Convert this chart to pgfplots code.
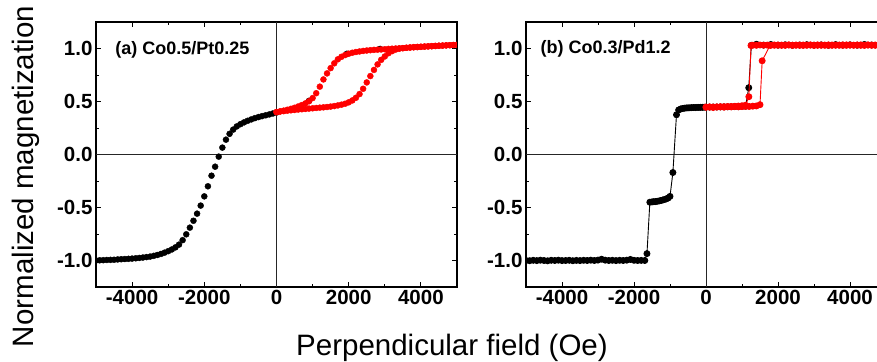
\documentclass[border=0pt]{standalone}
\usepackage{fontspec}
\setmainfont{Liberation Sans}
\usepackage{pgfplots}
\pgfplotsset{compat=1.18}
\usepackage{pgfplotstable}

% ---------- Panel (a) Co0.5/Pt0.25 ----------
\pgfplotstableread{
x y
-5000 -1.000
-4900 -0.998
-4800 -0.997
-4700 -0.995
-4600 -0.994
-4500 -0.993
-4400 -0.990
-4300 -0.988
-4200 -0.986
-4100 -0.984
-4000 -0.982
-3900 -0.979
-3800 -0.976
-3700 -0.972
-3600 -0.968
-3500 -0.963
-3400 -0.956
-3300 -0.948
-3200 -0.938
-3100 -0.926
-3000 -0.912
-2900 -0.896
-2800 -0.876
-2700 -0.850
-2600 -0.808
-2500 -0.753
-2400 -0.690
-2300 -0.625
-2200 -0.558
-2100 -0.482
-2000 -0.395
-1900 -0.300
-1800 -0.200
-1700 -0.115
-1600 -0.020
-1500 0.065
-1400 0.140
-1300 0.195
-1200 0.235
-1100 0.265
-1000 0.286
-900 0.303
-800 0.318
-700 0.331
-600 0.343
-500 0.353
-400 0.362
-300 0.370
-200 0.378
-100 0.387
0 0.396
900 0.506
1950 0.950
2870 0.996
}\blackA

\pgfplotstableread{
x y
0 0.400
100 0.405
200 0.409
300 0.413
400 0.417
500 0.420
600 0.424
700 0.427
800 0.430
900 0.433
1000 0.436
1100 0.439
1200 0.442
1300 0.445
1400 0.448
1500 0.452
1600 0.457
1700 0.463
1800 0.470
1900 0.479
2000 0.492
2100 0.510
2200 0.535
2300 0.570
2400 0.620
2500 0.680
2600 0.740
2700 0.798
2800 0.850
2900 0.893
3000 0.925
3100 0.955
3200 0.975
3300 0.990
3400 0.998
3500 1.003
3600 1.007
3700 1.010
3800 1.013
3900 1.015
4000 1.017
4100 1.019
4200 1.021
4300 1.023
4400 1.025
4500 1.027
4600 1.028
4700 1.030
4800 1.031
4900 1.033
5000 1.035
4900 1.033
4800 1.031
4700 1.029
4600 1.027
4500 1.025
4400 1.023
4300 1.021
4200 1.019
4100 1.017
4000 1.015
3900 1.013
3800 1.011
3700 1.009
3600 1.007
3500 1.004
3400 1.002
3300 1.000
3200 0.998
3100 0.996
3000 0.993
2900 0.991
2800 0.989
2700 0.987
2600 0.984
2500 0.981
2400 0.977
2300 0.972
2200 0.967
2100 0.960
2000 0.951
1900 0.938
1800 0.922
1700 0.898
1600 0.860
1500 0.815
1400 0.765
1300 0.708
1200 0.640
1100 0.578
1000 0.532
900 0.502
800 0.482
700 0.466
600 0.453
500 0.441
400 0.431
300 0.422
200 0.414
100 0.407
0 0.400
}\redA

% ---------- Panel (b) Co0.3/Pd1.2 ----------
\pgfplotstableread{
x y
-5000 -1.000
-4900 -1.002
-4800 -0.998
-4700 -1.001
-4600 -0.997
-4500 -1.000
-4400 -1.003
-4300 -0.998
-4200 -1.000
-4100 -0.997
-4000 -1.001
-3900 -1.000
-3800 -0.998
-3700 -1.002
-3600 -0.999
-3500 -1.001
-3400 -0.998
-3300 -1.000
-3200 -0.997
-3100 -1.000
-3000 -0.996
-2900 -0.988
-2800 -0.997
-2700 -1.000
-2600 -0.998
-2500 -1.001
-2400 -0.998
-2300 -1.000
-2200 -0.997
-2100 -0.990
-2000 -0.998
-1900 -1.000
-1800 -0.999
-1700 -1.000
-1640 -0.935
-1560 -0.450
-1500 -0.447
-1450 -0.445
-1400 -0.444
-1350 -0.441
-1300 -0.438
-1250 -0.434
-1200 -0.429
-1150 -0.424
-1100 -0.418
-1050 -0.410
-1000 -0.395
-920 -0.170
-820 0.375
-760 0.420
-700 0.430
-650 0.434
-600 0.437
-550 0.439
-500 0.440
-450 0.441
-400 0.442
-350 0.443
-300 0.443
-250 0.444
-200 0.444
-150 0.445
-100 0.445
-50 0.446
0 0.446
100 0.447
200 0.448
300 0.448
400 0.449
500 0.450
600 0.450
700 0.451
800 0.452
900 0.452
1000 0.453
1100 0.455
1187 0.630
1260 1.030
1400 1.040
1600 1.032
1800 1.038
2000 1.031
2200 1.035
2400 1.030
2600 1.033
2800 1.036
3000 1.031
3200 1.034
3400 1.030
3600 1.037
3800 1.032
4000 1.035
4200 1.031
4400 1.038
4600 1.033
4800 1.031
5000 1.034
}\blackB

\pgfplotstableread{
x y
0 0.447
100 0.449
200 0.443
300 0.448
400 0.450
500 0.446
600 0.451
700 0.449
800 0.452
900 0.450
1000 0.452
1100 0.454
1200 0.453
1300 0.456
1400 0.458
1500 0.470
1560 0.884
1780 1.030
1900 1.031
2000 1.033
2100 1.030
2200 1.032
2300 1.034
2400 1.030
2500 1.031
2600 1.033
2700 1.029
2800 1.032
2900 1.034
3000 1.031
3100 1.030
3200 1.033
3300 1.031
3400 1.034
3500 1.030
3600 1.032
3700 1.031
3800 1.034
3900 1.030
4000 1.033
4100 1.031
4200 1.032
4300 1.034
4400 1.030
4500 1.032
4600 1.031
4700 1.033
4800 1.030
4900 1.032
5000 1.033
4900 1.031
4800 1.033
4700 1.030
4600 1.032
4500 1.034
4400 1.031
4300 1.030
4200 1.033
4100 1.031
4000 1.032
3900 1.034
3800 1.030
3700 1.032
3600 1.031
3500 1.033
3400 1.030
3300 1.032
3200 1.031
3100 1.034
3000 1.030
2900 1.032
2800 1.031
2700 1.033
2600 1.030
2500 1.032
2400 1.031
2300 1.033
2200 1.030
2100 1.032
2000 1.031
1900 1.033
1800 1.030
1700 1.032
1600 1.031
1500 1.033
1400 1.030
1300 1.031
1250 1.028
1190 0.545
1100 0.465
1000 0.460
900 0.457
800 0.455
700 0.453
600 0.452
500 0.451
400 0.450
300 0.449
200 0.448
100 0.447
0 0.446
}\redB

\pgfplotsset{
  panel/.style={
    scale only axis,
    height=265pt,
    anchor=north west,
    xmin=-5000, xmax=5000, ymin=-1.25, ymax=1.25,
    xtick={-4000,-2000,0,2000,4000},
    xticklabels={-4000,-2000,0,2000,4000},
    ytick={-1,-0.5,0,0.5,1},
    yticklabels={-1.0,-0.5,0.0,0.5,1.0},
    minor x tick num=1, minor y tick num=1,
    tick align=inside,
    major tick length=5pt, minor tick length=3pt,
    tick style={black, line width=0.9pt},
    axis line style={black, line width=1.2pt},
    ticklabel style={font=\fontsize{20.5}{22}\selectfont\bfseries},
    clip marker paths=true,
  },
  dots/.style={only marks, mark=*, mark size=3pt, mark options={draw=#1, fill=#1}, color=#1},
  linedots/.style={mark=*, mark size=3pt, line width=0.9pt, mark options={draw=#1, fill=#1}, color=#1},
}

\begin{document}
\begin{tikzpicture}
\begin{axis}[panel, width=361pt, at={(96pt,-22pt)}]
  \draw[black!85, line width=0.9pt] (axis cs:0,-1.25) -- (axis cs:0,1.25);
  \draw[black!85, line width=0.9pt] (axis cs:-5000,0) -- (axis cs:5000,0);
  \addplot[dots=black] table[x=x,y=y] {\blackA};
  \addplot[dots=red] table[x=x,y=y] {\redA};
  \node[anchor=base west, inner sep=0pt, font=\fontsize{18}{20}\selectfont\bfseries]
    at (axis cs:-4470,0.947) {(a) Co0.5/Pt0.25};
\end{axis}
\begin{axis}[panel, width=360pt, at={(526pt,-22pt)}]
  \draw[black!85, line width=0.9pt] (axis cs:0,-1.25) -- (axis cs:0,1.25);
  \draw[black!85, line width=0.9pt] (axis cs:-5000,0) -- (axis cs:5000,0);
  \addplot[linedots=black] table[x=x,y=y] {\blackB};
  \addplot[linedots=red] table[x=x,y=y] {\redB};
  \node[anchor=base west, inner sep=0pt, font=\fontsize{18}{20}\selectfont\bfseries]
    at (axis cs:-4600,0.957) {(b) Co0.3/Pd1.2};
\end{axis}
\node[rotate=90, anchor=base, font=\fontsize{29.5}{32}\selectfont] at (33pt,-176.5pt) {Normalized magnetization};
\node[anchor=base, font=\fontsize{29.5}{32}\selectfont] at (452pt,-355pt) {Perpendicular field (Oe)};
\pgfresetboundingbox
\path[use as bounding box] (0pt,0pt) rectangle (877pt,-361pt);
\end{tikzpicture}
\end{document}
